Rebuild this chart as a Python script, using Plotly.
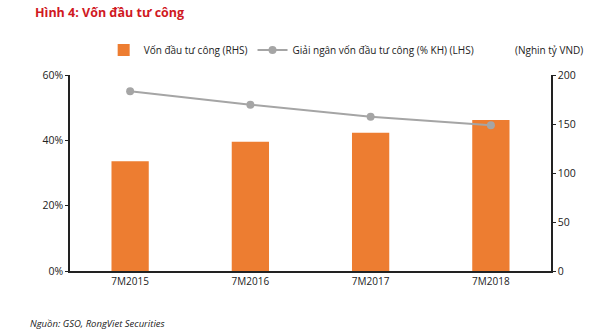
import plotly.graph_objects as go

# Periods (first seven months of each year)
periods = ["7M2015", "7M2016", "7M2017", "7M2018"]
# Public investment capital, thousand billion VND (right axis)
capital = [112, 132, 141, 154]
# Disbursement as share of plan, % (left axis)
disbursement = [55.0, 50.9, 47.2, 44.6]

left_ticks = [0, 20, 40, 60]
left_labels = ["0%", "20%", "40%", "60%"]
right_ticks = [0, 50, 100, 150, 200]

FONT = "Open Sans"
TXT = "#222222"

fig = go.Figure()

# Bars on the right-hand axis (drawn first, underneath)
fig.add_trace(go.Bar(
    x=periods, y=capital, name="Vốn đầu tư công (RHS)",
    marker=dict(color="#ED7D31", line=dict(width=0)),
    width=0.31, yaxis="y",
))
# Line on the left-hand axis, overlaid on top of the bars
fig.add_trace(go.Scatter(
    x=periods, y=disbursement, name="Giải ngân vốn đầu tư công (% KH) (LHS)",
    mode="lines+markers",
    line=dict(color="#A5A5A5", width=2),
    marker=dict(color="#A5A5A5", size=8),
    yaxis="y2",
))

axis_common = dict(
    showgrid=False, zeroline=False, showline=True, linecolor="#222222",
    linewidth=1.5, ticks="outside", ticklen=3, tickcolor="#222222",
    tickfont=dict(family=FONT, size=10.5, color=TXT),
)

fig.update_layout(
    width=600, height=335,
    margin=dict(l=70, r=49, t=75, b=64),
    paper_bgcolor="white", plot_bgcolor="white",
    xaxis=dict(
        showgrid=False, zeroline=False, showline=True, linecolor="#222222",
        linewidth=2, ticks="", tickfont=dict(family=FONT, size=10, color=TXT),
        range=[-0.5, 3.5],
    ),
    yaxis=dict(
        range=[0, 200], tickvals=right_ticks, side="right",
        **axis_common,
    ),
    yaxis2=dict(
        range=[0, 60], tickvals=left_ticks, ticktext=left_labels,
        overlaying="y", side="left",
        **axis_common,
    ),
    showlegend=True,
    legend=dict(
        orientation="h", x=0.07, y=1.128, xanchor="left", yanchor="middle",
        font=dict(family=FONT, size=10, color=TXT),
        bgcolor="rgba(0,0,0,0)", itemwidth=30,
    ),
    annotations=[
        dict(text="<b>Hình 4: Vốn đầu tư công</b>", xref="paper", yref="paper",
             x=(33 - 70) / 481, y=(271 - 12) / 196, xanchor="left", yanchor="middle",
             showarrow=False,
             font=dict(family=FONT, size=12.5, color="#D0191F")),
        dict(text="(Nghin tỷ VND)", xref="paper", yref="paper",
             x=1.07, y=1.128, xanchor="right", yanchor="middle", showarrow=False,
             font=dict(family=FONT, size=10, color=TXT)),
        dict(text="<i>Nguồn: GSO, RongViet Securities</i>", xref="paper", yref="paper",
             x=-0.088, y=-0.27, xanchor="left", yanchor="middle", showarrow=False,
             font=dict(family=FONT, size=9.5, color=TXT)),
    ],
)

fig.write_html("out.html")
